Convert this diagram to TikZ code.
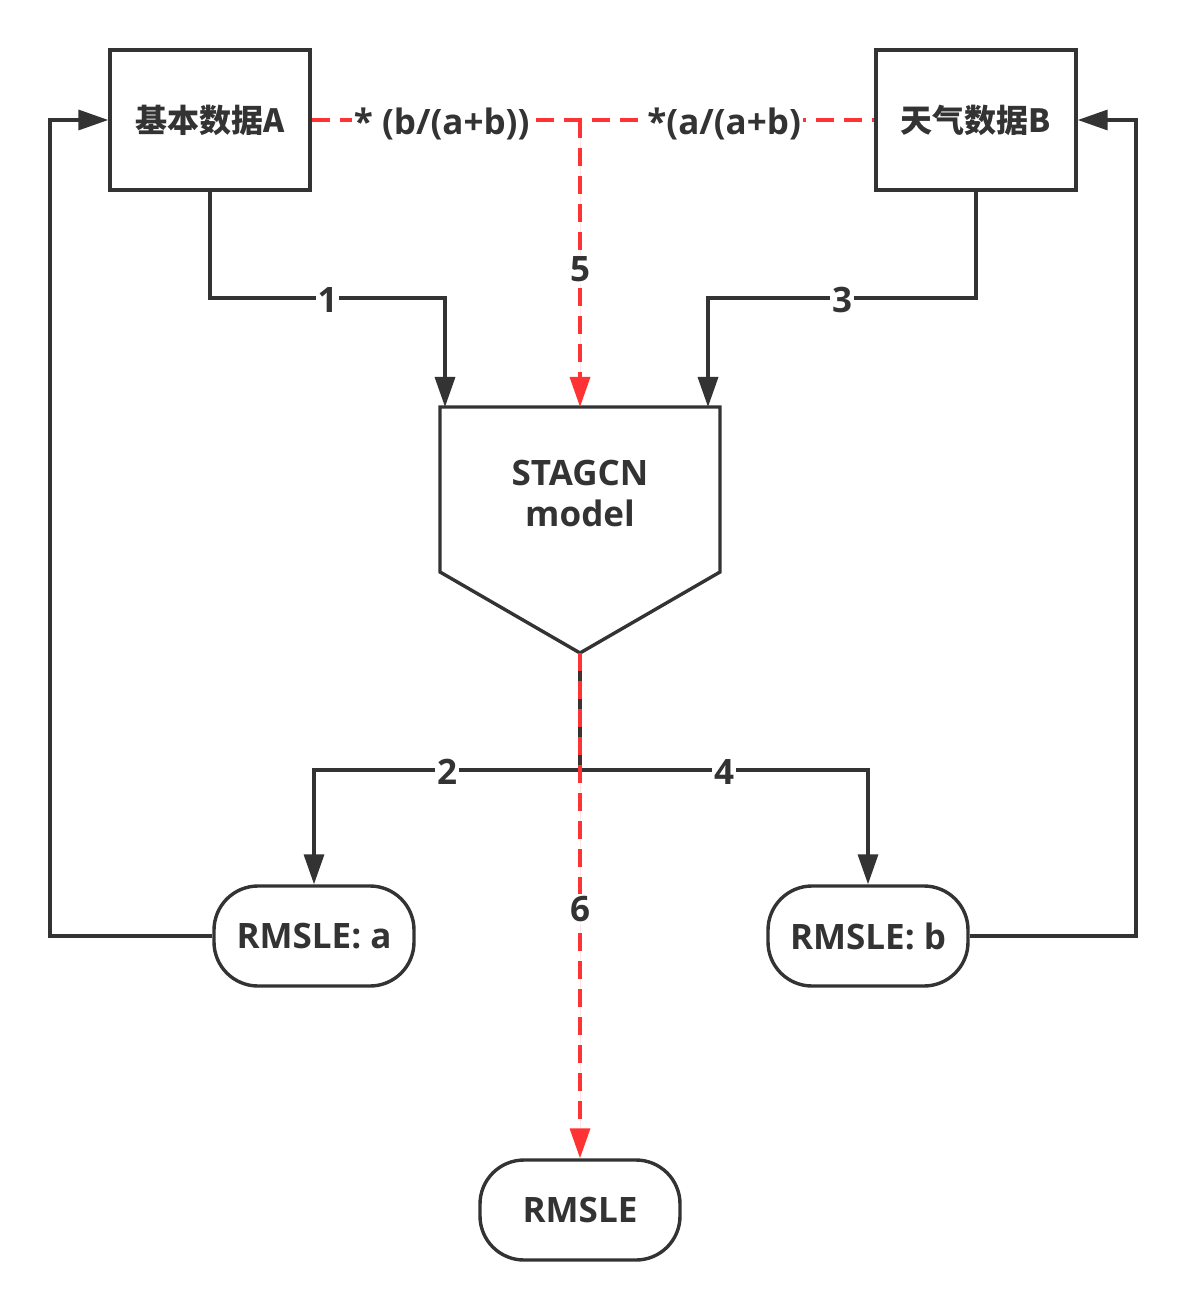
\documentclass[tikz,border=0pt]{standalone}
\usepackage{fontspec}
\setmainfont{Open Sans}
\newfontfamily\cjk{Noto Sans CJK SC}
\usetikzlibrary{arrows.meta}
\definecolor{dk}{HTML}{333333}
\definecolor{rd}{HTML}{FF3333}
\begin{document}
\begin{tikzpicture}[x=0.5pt,y=-0.5pt, line width=1.7pt,
  font=\fontsize{17.5}{20.5}\selectfont\bfseries,
  box/.style={draw=dk, minimum width=100pt, minimum height=70pt, inner sep=0pt, text=dk},
  pill/.style={draw=dk, rounded corners=22pt, minimum width=100pt, minimum height=50pt, inner sep=0pt, text=dk},
  conn/.style={draw=dk, -{Triangle[length=15pt,width=10pt]}},
  plain/.style={draw=dk},
  reddash/.style={draw=rd, dash pattern=on 9pt off 5pt},
  redarrow/.style={draw=rd, fill=rd, dash pattern=on 9pt off 5pt, -{Triangle[length=15pt,width=10pt]}},
  lbl/.style={fill=white, text=dk, inner sep=1pt}]
\useasboundingbox (0,0) rectangle (1186,1309);

% nodes
\node[box] (A) at (210,120) {\fontsize{16}{20}\selectfont\cjk\bfseries 基本数据A};
\node[box] (B) at (976,120) {\fontsize{16}{20}\selectfont\cjk\bfseries 天气数据B};
\node[text=dk, align=center, inner sep=0pt] (M) at (580,493) {STAGCN\\model};
\node[pill] (Ra) at (314,936) {RMSLE: a};
\node[pill] (Rb) at (868,936) {RMSLE: b};
\node[pill] (R) at (580,1210) {RMSLE};

% model shape
\coordinate (mtl) at (440,407);
\coordinate (mtr) at (720,407);
\coordinate (mr) at (720,572);
\coordinate (mbot) at (580,653);
\coordinate (ml) at (440,572);
\draw[dk] (mtl) -- (mtr) -- (mr) -- (mbot) -- (ml) -- cycle;

% helper coordinates
\coordinate (m1) at (445,407);
\coordinate (m5) at (580,407);
\coordinate (m3) at (708,407);
\coordinate (k1) at (445,298);
\coordinate (k3) at (708,298);
\coordinate (j5) at (580,120);
\coordinate (j) at (580,770);
\coordinate (fl) at (50,936);
\coordinate (fr) at (1136,936);

% top dashed link
\draw[reddash] (A.east) -- (B.west)
  node[lbl, pos=0.231, yshift=-2pt] {* (b/(a+b))}
  node[lbl, pos=0.733, yshift=-2pt] {*(a/(a+b)};

% 1 and 3
\draw[conn] (A.south) |- (k1) node[lbl, pos=0.75, yshift=-1pt] {1} -- (m1);
\draw[conn] (B.south) |- (k3) node[lbl, pos=0.75, yshift=-1pt] {3} -- (m3);

% 5
\draw[redarrow] (j5) -- (m5) node[lbl, pos=0.52] {5};

% outputs 2 and 4
\draw[plain] (mbot) -- (j);
\draw[conn] (j) -| (Ra.north) node[lbl, pos=0.25, yshift=-1pt] {2};
\draw[conn] (j) -| (Rb.north) node[lbl, pos=0.25, yshift=-1pt] {4};

% 6
\draw[redarrow] (mbot) -- (R.north) node[lbl, pos=0.507] {6};

% feedback loops
\draw[conn] (Ra.west) -- (fl) |- (A.west);
\draw[conn] (Rb.east) -- (fr) |- (B.east);
\end{tikzpicture}
\end{document}
